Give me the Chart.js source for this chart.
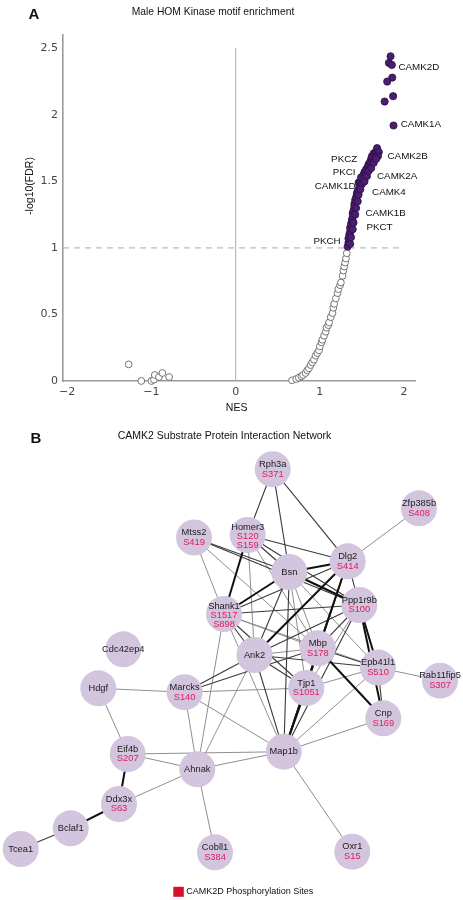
<!DOCTYPE html>
<html><head><meta charset="utf-8">
<script src="https://cdn.jsdelivr.net/npm/chart.js@4.4.1/dist/chart.umd.min.js"></script>
<style>
html,body{margin:0;padding:0;background:#fff;}
#wrap{position:relative;width:463px;height:900px;overflow:hidden;background:#fff;}
#ca{position:absolute;left:0;top:0;}
#cb{position:absolute;left:0;top:415px;}
</style></head><body>
<div id="wrap"><canvas id="ca" width="463" height="415"></canvas><canvas id="cb" width="463" height="485"></canvas></div>
<script>
// ---------- Panel A data ----------
const yTicks = [0, 0.5, 1, 1.5, 2, 2.5];
const xTicks = [-2, -1, 0, 1, 2];
// significant kinases (filled purple)
const sigX = [1.84,1.82,1.855,1.86,1.80,1.87,1.77,1.875,
  1.33,1.34,1.34,1.35,1.36,1.36,1.37,1.38,1.39,1.39,1.40,1.41,1.41,1.42,1.43,1.44,1.45,1.47,1.46,1.48,1.50,1.51,1.49,1.52,1.53,1.55,1.55,1.57,1.58,1.59,1.60,1.61,1.63,1.62,1.64,1.66,1.67,1.68,1.70,1.69,1.66,
  1.36,1.37,1.39,1.40,1.42,1.43,1.45,1.46,1.48,1.53,1.56,1.58,1.61,1.64,1.67];
const sigY = [2.44,2.39,2.375,2.28,2.25,2.14,2.10,1.92,
  1.01,1.04,1.07,1.10,1.12,1.15,1.18,1.21,1.23,1.26,1.28,1.31,1.33,1.36,1.38,1.41,1.43,1.46,1.49,1.50,1.48,1.52,1.53,1.55,1.57,1.56,1.59,1.61,1.63,1.62,1.65,1.67,1.66,1.69,1.71,1.70,1.73,1.75,1.72,1.69,1.68,
  1.03,1.08,1.14,1.19,1.25,1.30,1.35,1.40,1.44,1.50,1.54,1.58,1.60,1.64,1.67];
// non-significant kinases (open circles)
const nsX = [-1.27,-1.12,-1.00,-0.97,-0.96,-0.91,-0.87,-0.79,
  0.67,0.72,0.75,0.78,0.80,0.83,0.85,0.87,0.89,0.91,0.93,0.95,0.97,0.99,1.00,1.02,1.03,1.05,1.07,1.08,1.10,1.11,1.13,1.15,1.16,1.17,1.19,1.21,1.22,1.24,1.25,1.27,1.28,1.29,1.30,1.31,1.32];
const nsY = [0.125,0.0,0.0,0.01,0.045,0.03,0.06,0.03,
  0.005,0.015,0.025,0.035,0.045,0.06,0.08,0.095,0.12,0.14,0.16,0.19,0.21,0.23,0.26,0.29,0.31,0.34,0.37,0.40,0.42,0.44,0.48,0.51,0.55,0.58,0.62,0.66,0.69,0.72,0.74,0.79,0.83,0.86,0.89,0.92,0.96];
const kinaseNames = ['CAMK2D','CAMK1A','CAMK2B','PKCZ','PKCI','CAMK2A','CAMK1D','CAMK4','CAMK1B','PKCT','PKCH'];
const kinaseLabelX = [1.933,1.961,1.804,1.444,1.424,1.679,1.424,1.62,1.541,1.553,1.247];
const kinaseLabelY = [2.356,1.930,1.692,1.667,1.569,1.536,1.461,1.419,1.261,1.156,1.047];
const kinaseLabelSide = ['l','l','l','r','r','l','r','l','l','l','r'];
const fdrThreshold = 1;

// ---------- Panel B data ----------
const nodeNames = ['Rph3a','Zfp385b','Mtss2','Homer3','Dlg2','Bsn','Shank1','Ppp1r9b','Cdc42ep4','Ank2','Mbp','Epb41l1','Rab11fip5','Hdgf','Marcks','Tjp1','Cnp','Map1b','Eif4b','Ahnak','Ddx3x','Bclaf1','Tcea1','Cobll1','Oxr1'];
const nodeSites = [['S371'],['S408'],['S419'],['S120','S159'],['S414'],[],['S1517','S898'],['S100'],[],[],['S178'],['S510'],['S307'],[],['S140'],['S1051'],['S169'],[],['S207'],[],['S63'],[],[],['S384'],['S15']];
const nodeX = [272.7,419,194,247.7,347.7,289.3,224,359.3,123.3,254.5,317.8,378,440,98.3,184.6,306.3,383.3,283.8,127.7,197.3,119,70.7,20.7,215,352.3];
const nodeY = [469.2,508.3,537.5,535,561.3,572,614,605,649.3,655,648.3,667.5,680.7,688.3,692.2,688,718.3,751.7,754,769.3,804,828.3,849,852.3,851.7];
// edges: [from, to, strength 1=weak 2=medium 3=strong]
const edges = [
 ['Rph3a','Homer3',2],['Rph3a','Bsn',2],['Rph3a','Dlg2',2],['Zfp385b','Dlg2',1],
 ['Mtss2','Shank1',1],['Mtss2','Bsn',2],['Mtss2','Ppp1r9b',2],['Mtss2','Mbp',1],
 ['Homer3','Shank1',3],['Homer3','Bsn',2],['Homer3','Dlg2',2],['Homer3','Ppp1r9b',2],['Homer3','Ank2',1],['Homer3','Mbp',1],
 ['Bsn','Shank1',3],['Bsn','Dlg2',3],['Bsn','Ppp1r9b',3],['Bsn','Ank2',2],['Bsn','Mbp',1],['Bsn','Tjp1',1],['Bsn','Map1b',2],['Bsn','Epb41l1',1],
 ['Dlg2','Shank1',2],['Dlg2','Ppp1r9b',2],['Dlg2','Ank2',3],['Dlg2','Mbp',2],['Dlg2','Tjp1',2],['Dlg2','Map1b',3],
 ['Ppp1r9b','Shank1',2],['Ppp1r9b','Ank2',2],['Ppp1r9b','Mbp',2],['Ppp1r9b','Tjp1',1],['Ppp1r9b','Epb41l1',3],['Ppp1r9b','Cnp',3],['Ppp1r9b','Map1b',2],
 ['Shank1','Ank2',2],['Shank1','Mbp',1],['Shank1','Tjp1',2],['Shank1','Map1b',1],['Shank1','Ahnak',1],['Shank1','Epb41l1',1],
 ['Ank2','Mbp',1],['Ank2','Tjp1',2],['Ank2','Marcks',2],['Ank2','Map1b',2],['Ank2','Ahnak',1],['Ank2','Epb41l1',2],
 ['Mbp','Tjp1',2],['Mbp','Epb41l1',2],['Mbp','Cnp',3],['Mbp','Map1b',2],['Mbp','Marcks',2],
 ['Tjp1','Marcks',1],['Tjp1','Map1b',3],['Tjp1','Epb41l1',1],
 ['Epb41l1','Rab11fip5',1],['Epb41l1','Cnp',2],['Epb41l1','Map1b',1],['Cnp','Map1b',1],
 ['Marcks','Hdgf',1],['Marcks','Ahnak',1],['Marcks','Map1b',1],['Hdgf','Eif4b',1],
 ['Eif4b','Ahnak',1],['Eif4b','Map1b',1],['Eif4b','Ddx3x',3],['Ahnak','Map1b',1],['Ahnak','Ddx3x',1],['Ahnak','Cobll1',1],
 ['Map1b','Oxr1',1],['Ddx3x','Bclaf1',3],['Bclaf1','Tcea1',2]
];

// ---------- Panel A chart ----------
const SANS = '"Liberation Sans", Arial, sans-serif';
const pts = (xs, ys) => xs.map((x, i) => ({x: x, y: ys[i]}));

const annotA = {
  id: 'annotA',
  afterDatasetsDraw(chart) {
    const {ctx, scales: {x, y}} = chart;
    ctx.save();
    ctx.fillStyle = '#111';
    ctx.textBaseline = 'middle';
    ctx.font = '9.8px ' + SANS;
    kinaseNames.forEach((n, i) => {
      ctx.textAlign = kinaseLabelSide[i] === 'l' ? 'left' : 'right';
      ctx.fillText(n, x.getPixelForValue(kinaseLabelX[i]), y.getPixelForValue(kinaseLabelY[i]));
    });
    ctx.textAlign = 'center';
    ctx.font = '10.3px ' + SANS;
    ctx.fillText('Male HOM Kinase motif enrichment', 213, 12);
    ctx.font = '10.5px ' + SANS;
    ctx.fillText('NES', x.getPixelForValue(0) + 1, 408);
    ctx.save();
    ctx.translate(30, 186);
    ctx.rotate(-Math.PI / 2);
    ctx.fillText('-log10(FDR)', 0, 0);
    ctx.restore();
    ctx.font = 'bold 15px ' + SANS;
    ctx.fillText('A', 34, 15);
    ctx.restore();
  }
};

new Chart(document.getElementById('ca'), {
  type: 'scatter',
  data: {
    datasets: [
      {data: [{x: 0, y: 0}, {x: 0, y: 2.5}], showLine: true, borderColor: '#b8b8b8', borderWidth: 1.2, pointRadius: 0, order: 5},
      {data: [{x: -2.05, y: fdrThreshold}, {x: 2, y: fdrThreshold}], showLine: true, borderColor: '#aaaaaa', borderWidth: 1, borderDash: [6, 5], pointRadius: 0, order: 4},
      {data: pts(nsX, nsY), pointRadius: 3.4, backgroundColor: '#ffffff', borderColor: '#555555', borderWidth: 0.8, clip: false, order: 3},
      {data: pts(sigX, sigY), pointRadius: 3.6, backgroundColor: '#4b1e6e', borderColor: '#2c0c46', borderWidth: 0.8, clip: false, order: 2}
    ]
  },
  options: {
    responsive: false, animation: false, events: [],
    layout: {autoPadding: false, padding: {left: 0, right: 48, top: 35, bottom: 0}},
    plugins: {legend: {display: false}, tooltip: {enabled: false}},
    scales: {
      x: {
        type: 'linear', min: -2.05, max: 2.13,
        afterFit(s) { s.height = 34; },
        afterBuildTicks(s) { s.ticks = xTicks.map(v => ({value: v})); },
        grid: {display: false, drawTicks: false},
        border: {display: true, color: '#9a9a9a', width: 1.6},
        ticks: {padding: 5, color: '#444', font: {family: '"DejaVu Sans"', size: 11}, maxRotation: 0,
          callback: v => v < 0 ? '\u2212' + Math.abs(v) : String(v)}
      },
      y: {
        type: 'linear', min: 0, max: 2.6,
        afterFit(s) { s.width = 63; },
        afterBuildTicks(s) { s.ticks = yTicks.map(v => ({value: v})); },
        grid: {display: false, drawTicks: false},
        border: {display: true, color: '#9a9a9a', width: 1.6},
        ticks: {padding: 5, color: '#444', font: {family: '"DejaVu Sans"', size: 11}, callback: v => String(v)}
      }
    }
  },
  plugins: [annotA]
});

// ---------- Panel B chart ----------
const idx = {};
nodeNames.forEach((n, i) => idx[n] = i);
const edgeStyle = {1: {c: '#8e8e8e', w: 1}, 2: {c: '#3a3a3a', w: 1.1}, 3: {c: '#111111', w: 2}};
const edgeSets = edges.map(e => {
  const a = idx[e[0]], b = idx[e[1]];
  const st = edgeStyle[e[2]];
  return {data: [{x: nodeX[a], y: nodeY[a]}, {x: nodeX[b], y: nodeY[b]}], showLine: true,
    borderColor: st.c, borderWidth: st.w, pointRadius: 0, order: 10 - e[2]};
});

const annotB = {
  id: 'annotB',
  afterDatasetsDraw(chart) {
    const {ctx, scales: {x, y}} = chart;
    ctx.save();
    ctx.textAlign = 'center';
    ctx.textBaseline = 'middle';
    nodeNames.forEach((n, i) => {
      const px = x.getPixelForValue(nodeX[i]);
      const py = y.getPixelForValue(nodeY[i]);
      const sites = nodeSites[i];
      const lines = 1 + sites.length;
      const offs = lines === 1 ? [0] : lines === 2 ? [-4.8, 4.8] : [-7.5, 1.5, 10.2];
      ctx.font = '9.3px ' + SANS;
      ctx.fillStyle = '#1a1a1a';
      ctx.fillText(n, px, py + offs[0]);
      ctx.fillStyle = '#e3185e';
      sites.forEach((s, k) => ctx.fillText(s, px, py + offs[k + 1]));
    });
    ctx.fillStyle = '#111';
    ctx.font = '10.5px ' + SANS;
    ctx.fillText('CAMK2 Substrate Protein Interaction Network', x.getPixelForValue(224.5), y.getPixelForValue(436));
    ctx.font = 'bold 15px ' + SANS;
    ctx.fillText('B', x.getPixelForValue(36), y.getPixelForValue(438.5));
    ctx.fillStyle = '#d8102f';
    ctx.fillRect(x.getPixelForValue(173.3), y.getPixelForValue(886.8), 10.5, 10);
    ctx.fillStyle = '#111';
    ctx.textAlign = 'left';
    ctx.font = '9px ' + SANS;
    ctx.fillText('CAMK2D Phosphorylation Sites', x.getPixelForValue(186.3), y.getPixelForValue(892));
    ctx.restore();
  }
};

new Chart(document.getElementById('cb'), {
  type: 'scatter',
  data: {
    datasets: edgeSets.concat([{
      data: pts(nodeX, nodeY), pointRadius: 18, backgroundColor: '#d4c5de', borderWidth: 0, order: 0, clip: false
    }])
  },
  options: {
    responsive: false, animation: false, events: [],
    layout: {autoPadding: false, padding: 0},
    plugins: {legend: {display: false}, tooltip: {enabled: false}},
    scales: {
      x: {type: 'linear', display: false, min: 0, max: 463},
      y: {type: 'linear', display: false, min: 415, max: 900, reverse: true}
    }
  },
  plugins: [annotB]
});
</script>
</body></html>
